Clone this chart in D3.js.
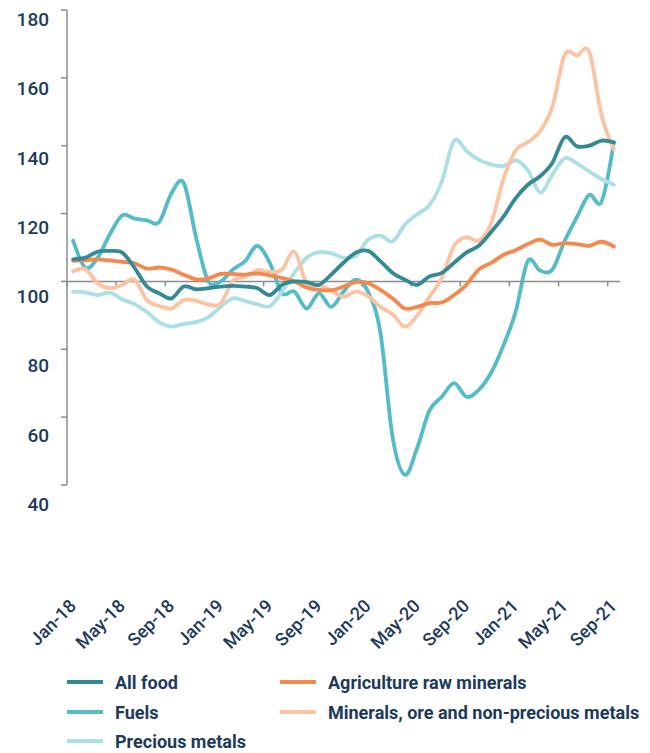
<!DOCTYPE html>
<html>
<head>
<meta charset="utf-8">
<script src="https://cdn.jsdelivr.net/npm/d3@7"></script>
<style>
  html, body { margin: 0; padding: 0; background: #fff; }
  svg { display: block; font-family: Roboto, "Open Sans", sans-serif; }
  .axis-line { stroke: #8c8c8c; stroke-width: 1.5; fill: none; }
  .ylab { fill: #1d3a5c; font-size: 19px; font-weight: 500; }
  .xlab { fill: #1d3a5c; font-size: 18px; font-weight: 500; }
  .legend text { fill: #1d3a5c; font-size: 18px; font-weight: 700; }
  .series { fill: none; stroke-width: 3.8; stroke-linejoin: round; stroke-linecap: round; }
</style>
</head>
<body>
<svg id="chart" width="650" height="753"></svg>
<script>
;(function (window, d3) {
  'use strict';

  // months Jan-18 .. Sep-21
  var months = [];
  var monNames = ["Jan","Feb","Mar","Apr","May","Jun","Jul","Aug","Sep","Oct","Nov","Dec"];
  for (var yr = 18; yr <= 21; yr++) {
    for (var m = 0; m < 12; m++) {
      if (yr === 21 && m > 8) break;
      months.push(monNames[m] + "-" + yr);
    }
  }

  var yTicks = [40, 60, 80, 100, 120, 140, 160, 180];

  var allFood = [106.5, 107, 108.8, 109, 108.5, 104, 98.5, 96.5, 95, 98.5, 97.7, 98,
    98.5, 98.7, 98.5, 98, 96, 99, 100, 99.8, 99, 102, 105.5, 108.5,
    109, 106, 102.5, 100.5, 99, 101.5, 102.5, 105.5, 108.5, 110.5, 114.5, 119,
    124.5, 128.5, 131, 135, 142.5, 139.8, 140, 141.5, 141];

  var fuels = [112, 104, 107, 114, 119.5, 118.5, 118, 117.5, 126, 129, 113, 100,
    100, 103.5, 106, 110.5, 105.5, 96.5, 97, 92, 96.5, 92.5, 97, 100.5,
    97, 85, 54, 43, 51, 62, 66, 70, 66, 68, 73, 81,
    91, 106, 103.2, 103.5, 112, 119, 125.5, 123.5, 141];

  var agriculture = [106.1, 106.3, 106.5, 106.2, 105.8, 105.3, 103.8, 104.1, 103.5, 102, 100.6, 100.9,
    102.2, 102.2, 102, 102.4, 101.8, 101, 100, 98.2, 97.5, 97.4, 98.5, 99.8,
    99.5, 97.5, 95, 92, 92.5, 93.6, 93.8, 96, 99, 103.5, 105.4, 107.8,
    109.2, 111, 112.3, 110.8, 111.3, 111, 110.5, 111.7, 110.3];

  var minerals = [103, 103.6, 99.5, 98, 99, 100.5, 94.5, 92.8, 92, 94.5, 94.3, 93.2,
    93.5, 100.2, 101.4, 103.3, 102.8, 103.5, 108.8, 99.5, 99, 97.3, 95.5, 97,
    95.7, 92.5, 90.3, 86.7, 90, 95.5, 101, 110.5, 113, 112, 117, 130,
    138.5, 141, 144.3, 151.5, 166.8, 166.6, 167.6, 149, 139];

  var precious = [97, 96.8, 96, 96.7, 94.7, 93.3, 91, 88, 86.7, 87.5, 88, 89.5,
    92.5, 95, 94.2, 93.3, 92.7, 97, 102.5, 107, 108.6, 108.3, 107, 107.5,
    112.3, 113.5, 111.8, 116.8, 119.8, 122.5, 129.5, 141.5, 138.5, 135.9, 134.5, 134,
    135.7, 132.8, 126.2, 131.5, 136.3, 134.8, 132.4, 130.2, 128.5];

  var seriesNames = ["All food", "Agriculture raw minerals", "Fuels",
    "Minerals, ore and non-precious metals", "Precious metals"];
  var seriesColors = ["#338a94", "#f5884d", "#54bcc7", "#fcc3a3", "#abdfe3"];
  var seriesData = [allFood, agriculture, fuels, minerals, precious];

  var svg = d3.select("#chart");

  var x = d3.scaleBand()
    .domain(months)
    .range([67, 620])
    .padding(0);

  var y = d3.scaleLinear()
    .domain([40, 180])
    .range([485, 10]);

  // tick labels sit a little below their ticks and spread slightly wider
  var yLab = d3.scaleLinear()
    .domain([40, 180])
    .range([511, 26]);

  var cx = function (d) { return x(d) + x.bandwidth() / 2; };

  // y axis
  var yAxis = svg.append("g").attr("class", "y-axis");
  yAxis.append("line")
    .attr("class", "axis-line")
    .attr("x1", 67).attr("x2", 67)
    .attr("y1", y(180)).attr("y2", y(40));
  yAxis.selectAll(".tick")
    .data(yTicks)
    .enter().append("line")
    .attr("class", "axis-line")
    .attr("x1", 61).attr("x2", 67)
    .attr("y1", function (d) { return y(d); })
    .attr("y2", function (d) { return y(d); });
  yAxis.selectAll(".ylab")
    .data(yTicks)
    .enter().append("text")
    .attr("class", "ylab")
    .attr("text-anchor", "end")
    .attr("x", 49)
    .attr("y", function (d) { return yLab(d); })
    .text(function (d) { return d; });

  // x axis at 100
  var xAxis = svg.append("g").attr("class", "x-axis");
  var tickMonths = months.filter(function (d, i) { return i % 4 === 0; });
  xAxis.append("line")
    .attr("class", "axis-line")
    .attr("x1", 67).attr("x2", 620)
    .attr("y1", y(100)).attr("y2", y(100));
  xAxis.selectAll(".tick")
    .data(tickMonths)
    .enter().append("line")
    .attr("class", "axis-line")
    .attr("x1", function (d) { return x(d); })
    .attr("x2", function (d) { return x(d); })
    .attr("y1", y(100)).attr("y2", y(100) + 5);
  xAxis.selectAll(".xlab")
    .data(tickMonths)
    .enter().append("text")
    .attr("class", "xlab")
    .attr("text-anchor", "end")
    .attr("transform", function (d) {
      return "translate(" + (cx(d) + 4) + ",607) rotate(-45)";
    })
    .text(function (d) { return d; });

  // lines
  var line = d3.line()
    .x(function (d, i) { return cx(months[i]); })
    .y(function (d) { return y(d); })
    .curve(d3.curveCatmullRom.alpha(0));

  var drawOrder = [2, 4, 3, 1, 0];
  drawOrder.forEach(function (k) {
    svg.append("path")
      .attr("class", "series")
      .attr("stroke", seriesColors[k])
      .attr("d", line(seriesData[k]));
  });

  // legend
  var legendPos = [[67, 682], [280, 682], [67, 712], [280, 712], [67, 741]];
  var legend = svg.append("g").attr("class", "legend");
  var item = legend.selectAll(".item")
    .data(seriesNames)
    .enter().append("g")
    .attr("class", "item")
    .attr("transform", function (d, i) {
      return "translate(" + legendPos[i][0] + "," + legendPos[i][1] + ")";
    });
  item.append("line")
    .attr("x1", 0).attr("x2", 36)
    .attr("y1", 0).attr("y2", 0)
    .attr("stroke-width", 4)
    .attr("stroke", function (d, i) { return seriesColors[i]; });
  item.append("text")
    .attr("x", 48)
    .attr("y", 6.5)
    .text(function (d) { return d; });

})(window, window.d3);
</script>
</body>
</html>
